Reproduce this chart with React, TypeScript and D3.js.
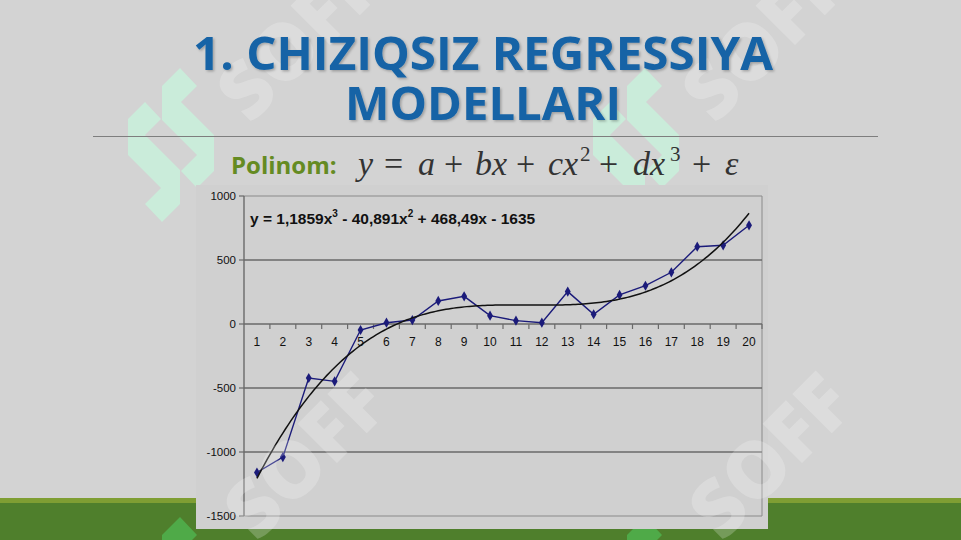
import React from 'react';
import * as d3 from 'd3';

// ---- Data ----
const categories = [1, 2, 3, 4, 5, 6, 7, 8, 9, 10, 11, 12, 13, 14, 15, 16, 17, 18, 19, 20];
const values = [-1160, -1040, -422, -448, -47, 10, 31, 180, 216, 65, 26, 10, 253, 76, 227, 299, 404, 604, 615, 771];
const yTicks = [1000, 500, 0, -500, -1000, -1500];
// trend equation shown in the chart: y = 1,1859x^3 - 40,891x^2 + 468,49x - 1635
const trendCoefficients = [1.1859, -40.891, 468.49, -1635];
const titleLines = ['1. CHIZIQSIZ REGRESSIYA', 'MODELLARI'];

const logoPieces = [
  [[180, 68], [197, 86], [181, 102], [214, 135], [214, 171], [197, 188], [181, 171], [197, 155], [162, 120], [162, 86]],
  [[162, 222], [145, 204], [161, 188], [128, 155], [128, 119], [145, 102], [161, 119], [145, 135], [180, 170], [180, 204]],
];

function Logo({ dx, dy, fill, clip }: { dx: number; dy: number; fill: string; clip?: string }) {
  return (
    <g transform={`translate(${dx},${dy})`} clipPath={clip}>
      {logoPieces.map((p, i) => (
        <polygon key={i} points={p.map((q) => q.join(',')).join(' ')} fill={fill} />
      ))}
    </g>
  );
}

function Watermark({ x, y, op }: { x: number; y: number; op: number }) {
  return (
    <text
      x={x}
      y={y}
      transform={`rotate(-45,${x},${y})`}
      fontFamily="'Open Sans', 'DejaVu Sans', sans-serif"
      fontWeight={800}
      fontSize={78}
      fill="#ffffff"
      fillOpacity={op}
    >
      SOFF
    </text>
  );
}

export default function App() {
  const W = 961;
  const H = 540;
  const x = d3.scaleBand<number>().domain(categories).range([244, 762]).padding(0);
  const cx = (c: number) => (x(c) as number) + x.bandwidth() / 2;
  const y = d3.scaleLinear().domain([-1500, 1000]).range([516, 196]);
  const first = categories[0];
  const last = categories[categories.length - 1];
  const xl = d3.scaleLinear().domain([first, last]).range([cx(first), cx(last)]);
  const poly = (t: number) => trendCoefficients.reduce((acc, c) => acc * t + c, 0);
  const trendXs = d3.range(first, last + 0.0001, 0.1);
  const trendPath = d3.line<number>().x((t) => xl(t)).y((t) => y(poly(t)))(trendXs) || '';
  const dataPath =
    d3
      .line<number>()
      .x((_, i) => cx(categories[i]))
      .y((d) => y(d))(values) || '';
  const diamond = d3.symbol().type(d3.symbolDiamond).size(30)() || '';

  const axisColor = '#6a6a6a';
  const labelFont = "'Liberation Sans', Arial, sans-serif";
  const mathFont = "'Liberation Serif', 'DejaVu Serif', serif";

  const mathTokens: { t: string; x: number; it?: boolean; sup?: boolean }[] = [
    { t: 'y', x: 358, it: true },
    { t: '=', x: 384 },
    { t: 'a', x: 418, it: true },
    { t: '+', x: 444 },
    { t: 'bx', x: 475, it: true },
    { t: '+', x: 516 },
    { t: 'cx', x: 548, it: true },
    { t: '2', x: 580, sup: true },
    { t: '+', x: 599 },
    { t: 'dx', x: 633, it: true },
    { t: '3', x: 670, sup: true },
    { t: '+', x: 692 },
    { t: 'ε', x: 725, it: true },
  ];

  return (
    <svg
      width={W}
      height={H}
      viewBox={`0 0 ${W} ${H}`}
      style={{ position: 'absolute', left: 0, top: 0, display: 'block' }}
    >
      <defs>
        <clipPath id="boxClip">
          <rect x={196} y={185} width={572} height={344} />
        </clipPath>
        <filter id="tshadow" x="-10%" y="-30%" width="120%" height="160%">
          <feDropShadow dx="1.5" dy="1.5" stdDeviation="1" floodColor="#000" floodOpacity="0.25" />
        </filter>
      </defs>
      {/* background */}
      <rect x={0} y={0} width={W} height={H} fill="#d3d3d3" />
      {/* green band */}
      <rect x={0} y={498} width={W} height={5} fill="#7f9e33" />
      <rect x={0} y={503} width={W} height={H - 503} fill="#4f7f2c" />

      {/* logos */}
      <Logo dx={0} dy={0} fill="#caecda" />
      <Logo dx={465} dy={0} fill="#caecda" />
      <Logo dx={0} dy={449} fill="#4faa48" />
      <Logo dx={465} dy={449} fill="#4faa48" />

      {/* top watermarks */}
      <Watermark x={250} y={125} op={0.22} />
      <Watermark x={715} y={125} op={0.22} />

      {/* title */}
      <g filter="url(#tshadow)">
        {titleLines.map((l, i) => (
          <text
            key={i}
            x={483}
            y={70 + i * 50}
            textAnchor="middle"
            fontFamily="'Open Sans', 'Noto Sans', sans-serif"
            fontWeight={700}
            fontSize={46}
            fill="#1764a6"
            textLength={i === 0 ? 580 : 276}
            lengthAdjust="spacingAndGlyphs"
          >
            {l}
          </text>
        ))}
      </g>
      <line x1={93} x2={878} y1={136.5} y2={136.5} stroke="#7e7e7e" strokeWidth={1} />

      {/* formula */}
      <text x={231} y={174} fontFamily="'Open Sans', 'Noto Sans', sans-serif" fontWeight={700} fontSize={24} fill="#658b22">
        Polinom:
      </text>
      {mathTokens.map((m, i) => (
        <text
          key={i}
          x={m.x}
          y={m.sup ? 161 : 175}
          fontFamily={mathFont}
          fontStyle={m.it ? 'italic' : 'normal'}
          fontSize={m.sup ? 21 : 34}
          fill="#333333"
        >
          {m.t}
        </text>
      ))}

      {/* chart box */}
      <rect x={196} y={185} width={572} height={344} fill="#d0d0d0" />
      <Logo dx={465} dy={449} fill="#caecda" clip="url(#boxClip)" />

      {/* plot frame */}
      <line x1={244} x2={762} y1={y(1000)} y2={y(1000)} stroke="#8a8a8a" strokeWidth={1} />
      <line x1={244} x2={762} y1={y(-1500)} y2={y(-1500)} stroke="#8a8a8a" strokeWidth={1} />
      <line x1={762} x2={762} y1={y(1000)} y2={y(-1500)} stroke="#8a8a8a" strokeWidth={1} />
      {yTicks
        .filter((v) => v !== 1000 && v !== -1500 && v !== 0)
        .map((v) => (
          <line key={v} x1={244} x2={762} y1={y(v)} y2={y(v)} stroke={axisColor} strokeWidth={1.6} />
        ))}
      {/* y axis */}
      <line x1={244} x2={244} y1={y(1000)} y2={y(-1500)} stroke={axisColor} strokeWidth={1.4} />
      {yTicks.map((v) => (
        <g key={v}>
          <line x1={239} x2={244} y1={y(v)} y2={y(v)} stroke={axisColor} strokeWidth={1.2} />
          <text x={236} y={y(v) + 4} textAnchor="end" fontFamily={labelFont} fontSize={11.5} fill="#111">
            {v}
          </text>
        </g>
      ))}
      {/* x axis at 0 */}
      <line x1={244} x2={762} y1={y(0)} y2={y(0)} stroke={axisColor} strokeWidth={1.6} />
      {categories.map((c) => (
        <line
          key={'t' + c}
          x1={(x(c) as number) + x.bandwidth()}
          x2={(x(c) as number) + x.bandwidth()}
          y1={y(0)}
          y2={y(0) + 5}
          stroke={axisColor}
          strokeWidth={1.2}
        />
      ))}
      {categories.map((c) => (
        <text key={'l' + c} x={cx(c)} y={346} textAnchor="middle" fontFamily={labelFont} fontSize={12} fill="#111">
          {c}
        </text>
      ))}

      {/* equation */}
      <text x={250} y={224} fontFamily={labelFont} fontWeight={700} fontSize={15.5} fill="#111">
        y = 1,1859x<tspan dy={-7} fontSize={10}>3</tspan>
        <tspan dy={7}> - 40,891x</tspan>
        <tspan dy={-7} fontSize={10}>2</tspan>
        <tspan dy={7}> + 468,49x - 1635</tspan>
      </text>

      {/* series */}
      <path d={dataPath} fill="none" stroke="#1b1b7a" strokeWidth={1.4} />
      {values.map((v, i) => (
        <path key={i} d={diamond} transform={`translate(${cx(categories[i])},${y(v)})`} fill="#1b1b7a" />
      ))}
      {/* trend */}
      <path d={trendPath} fill="none" stroke="#111" strokeWidth={1.5} />

      {/* bottom watermarks */}
      <Watermark x={257} y={543} op={0.22} />
      <Watermark x={722} y={543} op={0.22} />
    </svg>
  );
}
